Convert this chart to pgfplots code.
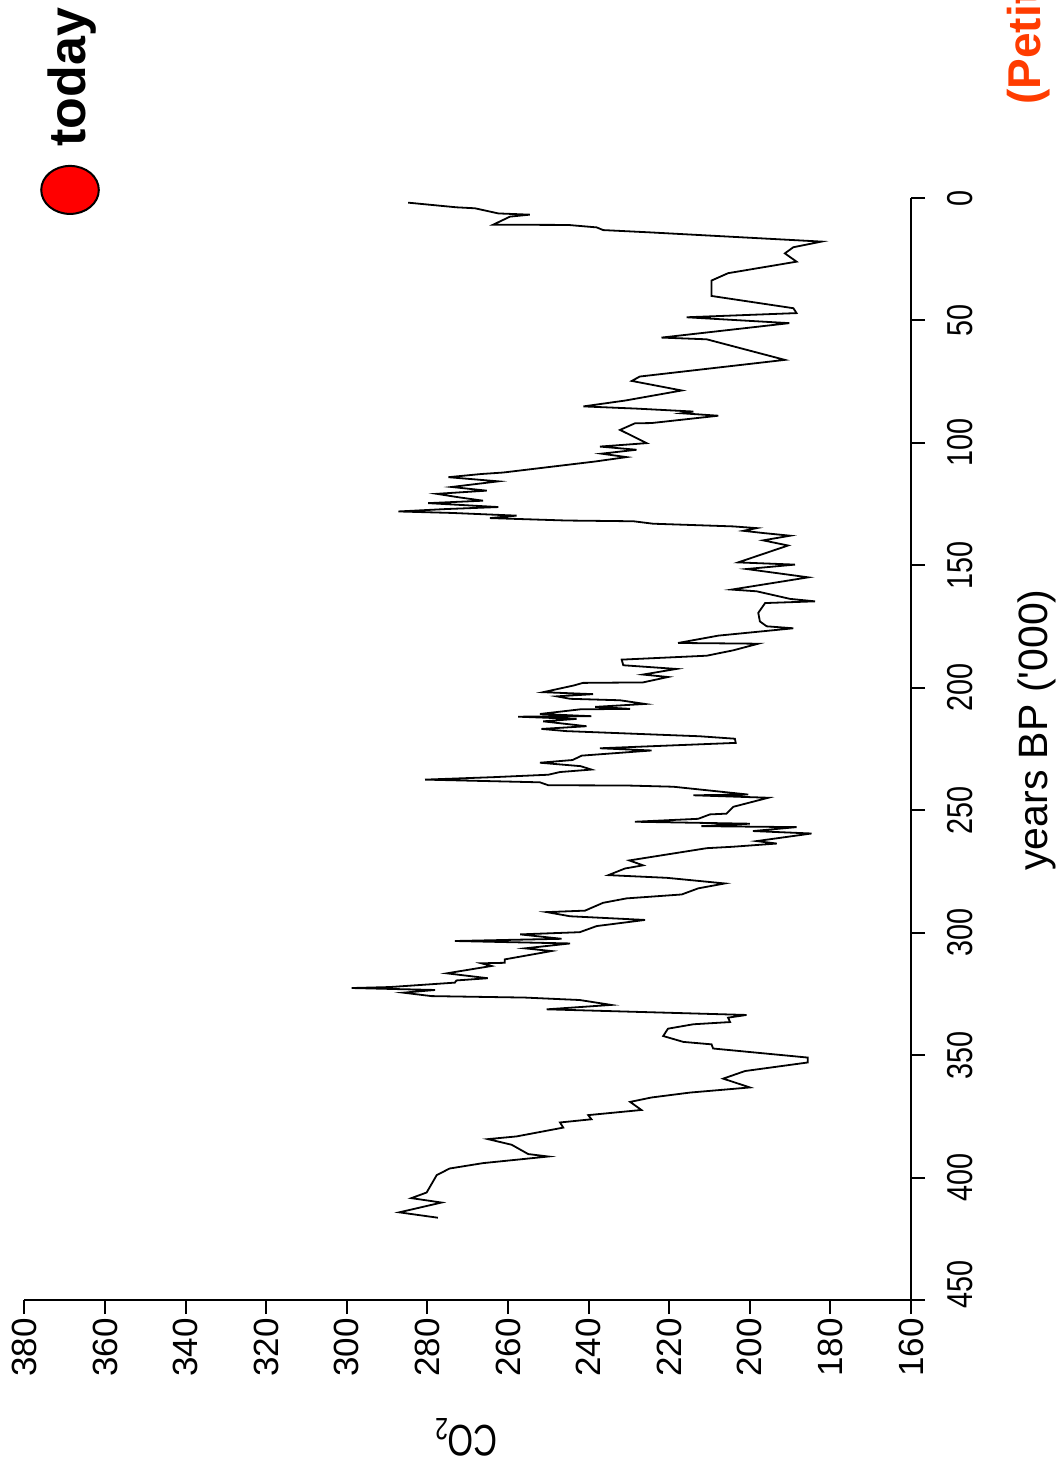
\documentclass[border=0pt]{standalone}
\usepackage{pgfplots}
\pgfplotsset{compat=1.18}
\usepackage{pgfplotstable}
\usepackage{fontspec}
\setmainfont{Liberation Sans}
\newfontfamily\narrowfont[FakeStretch=0.8]{Liberation Sans}
\newfontfamily\narrowerfont[FakeStretch=0.75]{Liberation Sans}
\definecolor{petit}{RGB}{255,60,0}

\pgfplotstableread{
yr co2
1.9 284.8
3.8 272.8
4.2 268.2
6.3 262.4
6.8 254.6
7.6 259.5
10.9 263.7
11.0 245.1
12.0 238.0
13.1 236.4
14.0 225.2
17.8 182.2
20.1 189.2
22.6 191.3
26.0 188.4
30.7 205.4
33.7 209.5
40.0 209.5
45.0 189.2
47.0 188.4
48.7 215.7
51.1 190.2
57.0 221.9
57.7 210.7
66.1 191.3
72.9 227.3
74.7 229.3
78.6 216.9
82.7 230.9
85.1 241.3
86.0 228.1
87.2 214.0
87.9 216.9
88.9 207.8
91.9 224.4
92.0 228.5
94.7 232.2
100.1 225.6
101.5 237.2
102.8 228.1
104.4 236.8
105.8 230.6
107.6 238.4
112.1 261.2
112.7 266.6
114.0 274.8
115.7 262.4
118.0 274.0
119.5 265.3
120.8 277.7
122.3 271.9
123.6 266.2
124.6 279.8
126.2 262.4
127.0 275.2
128.0 287.2
128.6 274.0
129.7 257.9
130.7 264.5
131.7 245.5
132.0 228.9
133.0 224.0
134.1 204.1
134.8 198.3
135.9 201.6
136.8 196.7
137.9 190.0
139.8 196.7
141.9 190.5
148.8 202.9
149.7 188.8
151.5 200.8
154.9 185.5
159.9 204.5
160.6 198.3
163.7 190.0
164.7 183.8
165.4 196.2
169.4 197.9
172.9 197.5
174.9 195.8
175.7 189.2
178.7 207.8
181.7 217.8
182.0 197.9
184.7 204.1
186.9 210.7
188.5 231.8
190.8 231.4
192.3 218.2
194.6 226.5
195.6 220.3
197.8 226.5
198.0 241.4
199.1 243.8
201.8 251.3
202.6 238.9
203.5 247.9
204.5 244.6
205.1 232.2
206.6 226.0
207.8 238.4
208.6 229.7
208.8 242.1
210.7 252.1
211.6 239.3
211.8 257.5
212.7 243.0
213.7 251.3
215.7 240.5
216.8 251.7
217.7 245.5
219.8 212.4
220.8 203.7
222.5 203.5
224.7 237.2
225.6 224.4
227.7 241.7
229.5 244.0
230.6 252.1
232.0 242.0
233.4 239.3
234.4 247.1
235.5 250.0
236.5 263.7
237.5 280.6
238.6 252.1
239.8 250.0
239.9 230.6
240.4 219.0
243.6 200.4
243.9 214.0
244.9 195.4
248.6 204.1
251.4 205.8
251.7 209.9
253.5 212.8
254.7 228.5
255.5 200.0
256.5 212.0
256.9 188.4
258.5 199.2
259.5 184.7
262.6 198.3
263.6 193.3
264.9 204.1
265.5 210.7
270.5 229.9
272.5 226.5
273.8 231.0
276.5 235.1
277.6 220.6
279.9 206.2
281.9 212.8
284.4 216.9
286.0 230.6
287.8 236.4
291.0 240.9
291.6 250.4
293.3 244.6
294.8 226.0
297.3 238.0
299.8 242.2
300.7 257.0
302.5 246.7
303.4 273.2
304.4 244.6
306.4 255.8
307.5 249.2
310.9 260.8
312.3 260.8
312.5 266.6
313.6 264.1
316.6 275.2
318.6 265.0
319.5 272.8
320.4 273.2
322.2 289.3
322.6 298.8
323.4 278.1
324.5 286.0
325.9 279.0
326.5 255.8
327.5 242.2
329.5 234.4
331.3 250.4
333.6 200.8
334.7 205.4
336.5 204.9
337.4 214.0
339.2 220.3
342.2 221.5
344.6 216.5
345.6 209.5
347.3 209.1
351.0 185.6
353.0 185.6
356.5 201.2
359.6 206.6
363.2 200.0
365.3 214.9
367.3 224.4
369.1 229.7
372.4 226.9
374.5 240.1
376.2 239.3
377.5 247.1
379.6 246.3
383.2 257.9
384.3 265.0
386.6 259.1
390.4 255.0
391.4 250.0
394.1 266.2
396.3 274.5
399.0 277.7
406.1 280.2
408.4 284.0
410.2 276.5
414.2 287.0
416.4 277.4
}\vostok

\begin{document}
\begin{tikzpicture}
\useasboundingbox (-12.25pt,-83.5pt) rectangle (516.25pt,650pt);
\clip (-12.25pt,-83.5pt) rectangle (516.25pt,650pt);
\begin{axis}[
  at={(0pt,0pt)}, anchor=south west,
  scale only axis, width=443.25pt, height=551pt,
  xmin=160, xmax=380, ymin=0, ymax=450,
  x dir=reverse, y dir=reverse,
  axis x line*=bottom, axis y line*=right,
  axis line style={line width=1pt, black, -},
  clip=false,
  xtick={160,180,...,380}, ytick={0,50,...,450},
  yticklabels={0,50,100,150,200,250,300,350,400,\hspace{16pt}450},
  minor tick num=0,
  tick align=outside,
  major tick length=7pt,
  tick style={line width=1pt, black},
  /pgf/number format/assume math mode=true,
  xticklabel style={rotate=90, anchor=east, inner sep=0pt,
     font=\fontsize{17.5}{17.5}\selectfont},
  yticklabel style={rotate=90, anchor=north, inner sep=0pt,
     font=\narrowfont\fontsize{18}{18}\selectfont},
  xticklabel shift=2pt,
  yticklabel shift=11pt,
]
\addplot[black, line width=0.9pt, mark=none] table[x=co2, y=yr] {\vostok};
\addplot[only marks, mark=*, mark size=12pt,
  mark options={fill=red, draw=black, line width=1pt, xscale=1.2}]
  coordinates {(368.7,-3.3)};
\node[rotate=90, font=\bfseries\fontsize{26}{26}\selectfont, inner sep=0pt]
  at (axis cs:368.2,-49.4) {today};
\end{axis}
\node[rotate=90, inner sep=0pt, font=\fontsize{20.5}{20.5}\selectfont]
  at (506.25pt,285pt) {years BP (\textquotesingle000)};
\node[rotate=180, inner sep=0pt, font=\narrowerfont\fontsize{22}{22}\selectfont]
  at (220.75pt,-68.5pt) {CO\textsubscript{2}};
\node[rotate=90, anchor=base west, inner sep=0pt, text=petit,
  font=\bfseries\fontsize{23}{23}\selectfont]
  at (508pt,597.5pt) {(Petit et al., 1999)};
\end{tikzpicture}
\end{document}
